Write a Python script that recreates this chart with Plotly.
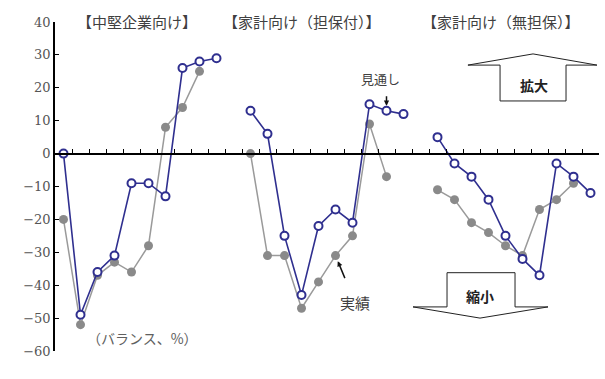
import plotly.graph_objects as go

# Quarterly survey periods shown in each panel (last one is the outlook)
quarters = ["07/9", "07/12", "08/3", "08/6", "08/9", "08/12", "09/3", "09/6", "09/9", "09/12"]
label_quarters = ["07/9", "08/3", "08/9", "09/3", "09/9"]

panel_titles = ["【中堅企業向け】", "【家計向け（担保付）】", "【家計向け（無担保）】"]

# 見通し (outlook) and 実績 (actual), balance in %
outlook_mid = [0, -49, -36, -31, -9, -9, -13, 26, 28, 29]
actual_mid = [-20, -52, -37, -33, -36, -28, 8, 14, 25]

outlook_secured = [13, 6, -25, -43, -22, -17, -21, 15, 13, 12]
actual_secured = [0, -31, -31, -47, -39, -31, -25, 9, -7]

outlook_unsecured = [5, -3, -7, -14, -25, -32, -37, -3, -7, -12]
actual_unsecured = [-11, -14, -21, -24, -28, -31, -17, -14, -9]

outlook_sets = [outlook_mid, outlook_secured, outlook_unsecured]
actual_sets = [actual_mid, actual_secured, actual_unsecured]

SLOTS = len(quarters) + 1  # one empty slot between panels


def panel_series(sets):
    xs, ys = [], []
    for p, vals in enumerate(sets):
        for q, v in enumerate(vals):
            xs.append(p * SLOTS + q)
            ys.append(v)
        xs.append(None)
        ys.append(None)
    return xs, ys


ax_x, ax_y = panel_series(actual_sets)
ou_x, ou_y = panel_series(outlook_sets)

NAVY = "#2f2f8f"
GRAY = "#8a8a8a"
CJK = "Noto Sans CJK JP"
NUM = "DejaVu Serif"

fig = go.Figure()
fig.add_trace(go.Scatter(
    x=ax_x, y=ax_y, mode="lines+markers", name="実績",
    line=dict(color="#9a9a9a", width=1.5),
    marker=dict(color=GRAY, size=9, line=dict(width=0)),
    connectgaps=False, hoverinfo="skip",
))
fig.add_trace(go.Scatter(
    x=ou_x, y=ou_y, mode="lines+markers", name="見通し",
    line=dict(color=NAVY, width=1.6),
    marker=dict(color="white", size=8, line=dict(color=NAVY, width=2)),
    connectgaps=False, hoverinfo="skip",
))

last_slot = SLOTS * (len(panel_titles) - 1) + len(quarters) - 1
label_pos, label_txt = [], []
for p in range(len(panel_titles)):
    for lab in label_quarters:
        label_pos.append(p * SLOTS + quarters.index(lab))
        label_txt.append(lab)

annotations = []
title_x = [4.32, 14.03, 25.74]
for t, xc in zip(panel_titles, title_x):
    annotations.append(dict(
        text=t, x=xc, y=1.003, xref="x", yref="paper", showarrow=False,
        xanchor="center", yanchor="middle",
        font=dict(family=CJK, size=15, color="#404040"),
    ))

annotations += [
    dict(text="（バランス、%）", x=4.62, y=-55.9, xref="x", yref="y", showarrow=False,
         font=dict(family=CJK, size=14, color="#606060")),
    dict(text="見通し", x=18.62, y=22.7, xref="x", yref="y", showarrow=False,
         font=dict(family=CJK, size=13, color="#404040")),
    dict(text="実績", x=17.15, y=-45.4, xref="x", yref="y", showarrow=False,
         font=dict(family=CJK, size=15, color="#404040")),
    dict(text="<b>拡大</b>", x=27.68, y=20.85, xref="x", yref="y", showarrow=False,
         font=dict(family=CJK, size=14, color="#222")),
    dict(text="<b>縮小</b>", x=24.5, y=-43.3, xref="x", yref="y", showarrow=False,
         font=dict(family=CJK, size=14, color="#222")),
    # pointer lines to the labelled markers
    dict(text="", x=19, y=outlook_secured[8], xref="x", yref="y", showarrow=True,
         ax=0, ay=-16, arrowhead=2, arrowsize=0.7, arrowwidth=1.5, arrowcolor="#111",
         standoff=5),
    dict(text="", x=16, y=actual_secured[5], xref="x", yref="y", showarrow=True,
         ax=10, ay=24, arrowhead=2, arrowsize=0.7, arrowwidth=1.5, arrowcolor="#111",
         standoff=6),
]

shapes = [
    # upward "expand" arrow
    dict(type="path", xref="x", yref="y",
         path="M 25.68,16 L 25.68,26.9 L 23.79,26.9 L 27.62,30.3 L 31.38,26.9 "
              "L 29.56,26.9 L 29.56,16 Z",
         line=dict(color="#222", width=1), fillcolor="white", layer="below"),
    # downward "shrink" arrow
    dict(type="path", xref="x", yref="y",
         path="M 22.56,-36.2 L 26.56,-36.2 L 26.56,-46.6 L 28.5,-46.6 L 24.5,-50 "
              "L 20.56,-46.6 L 22.56,-46.6 Z",
         line=dict(color="#222", width=1), fillcolor="white", layer="below"),
]

fig.update_layout(
    width=605, height=379,
    margin=dict(l=55, r=6, t=22, b=28, pad=0),
    paper_bgcolor="white", plot_bgcolor="white",
    showlegend=False,
    annotations=annotations,
    shapes=shapes,
    xaxis=dict(
        range=[-0.5, last_slot + 0.5], anchor="free", position=0.6,
        showline=True, linecolor="black", linewidth=1.5,
        tickmode="array", tickvals=[k - 0.5 for k in range(1, last_slot + 2)],
        ticks="inside", ticklen=4, tickwidth=1.2, tickcolor="black",
        showticklabels=False, showgrid=False, zeroline=False, automargin=False,
    ),
    xaxis2=dict(
        range=[-0.5, last_slot + 0.5], overlaying="x", anchor="y", side="bottom",
        showline=False, showgrid=False, zeroline=False,
        tickmode="array", tickvals=label_pos, ticktext=label_txt,
        ticks="outside", ticklen=12, tickcolor="rgba(0,0,0,0)",
        tickfont=dict(family=NUM, size=12, color="#555"), automargin=False,
    ),
    yaxis=dict(
        range=[-60, 40], tickmode="array", tickvals=list(range(-60, 41, 10)),
        showline=True, linecolor="black", linewidth=1.5,
        ticks="inside", ticklen=4, tickwidth=1.2, tickcolor="black",
        tickfont=dict(family=NUM, size=13, color="#555"),
        showgrid=False, zeroline=False, automargin=False,
    ),
)

fig.write_html("out.html")
